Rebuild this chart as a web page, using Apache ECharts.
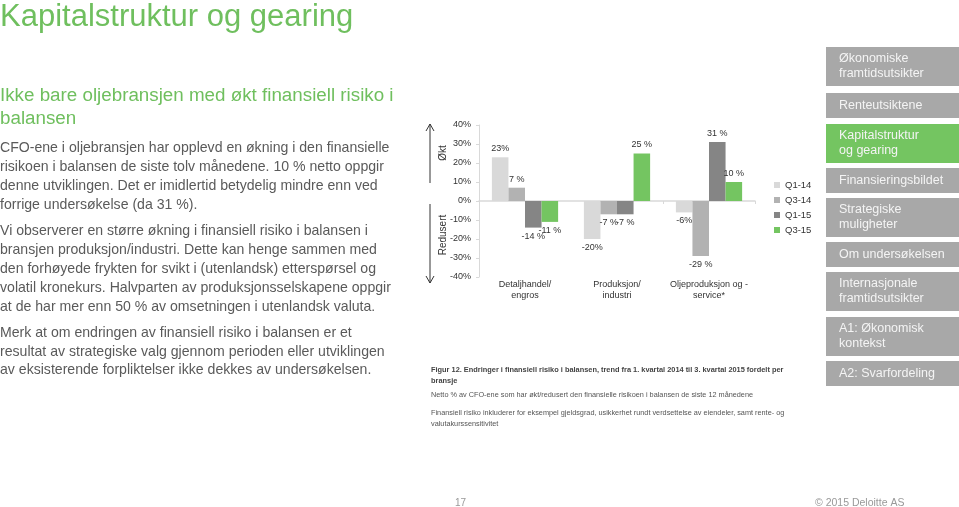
<!DOCTYPE html>
<html><head><meta charset="utf-8">
<script src="https://cdn.jsdelivr.net/npm/echarts@6/dist/echarts.min.js"></script>
<style>html,body{margin:0;padding:0;background:#fff;}#c{width:959px;height:507px;}</style>
</head><body><div id="c"></div>
<script>
var categories = ['Detaljhandel/\nengros', 'Produksjon/\nindustri', 'Oljeproduksjon og -\nservice*'];
var seriesNames = ['Q1-14', 'Q3-14', 'Q1-15', 'Q3-15'];
var q1_14 = [23, -20, -6];
var q3_14 = [7, -7, -29];
var q1_15 = [-14, -7, 31];
var q3_15 = [-11, 25, 10];
var q1_14Labels = ['23%', '-20%', '-6%'];
var q3_14Labels = ['7 %', '-7 %', '-29 %'];
var q1_15Labels = ['-14 %', '-7 %', '31 %'];
var q3_15Labels = ['-11 %', '25 %', '10 %'];
var yTicks = [-40, -30, -20, -10, 0, 10, 20, 30, 40];

var colors = ['#d9d9d9', '#b2b2b2', '#858585', '#74c561'];
var FONT = '"Liberation Sans", Arial, sans-serif';

function mkSeries(name, data, labels, color) {
  return {
    name: name, type: 'bar', xAxisIndex: 0, barGap: '0%', barCategoryGap: '28%',
    itemStyle: {color: color},
    data: data.map(function (v, i) {
      return {value: v, label: {position: v >= 0 ? 'top' : 'bottom', formatter: labels[i]}};
    }),
    label: {show: true, fontSize: 9, color: '#333', fontFamily: FONT, distance: 4}
  };
}

var navItems = [
  {t: 'Økonomiske\nframtidsutsikter', y: 47, h: 39},
  {t: 'Renteutsiktene', y: 93, h: 25},
  {t: 'Kapitalstruktur\nog gearing', y: 124, h: 39, active: true},
  {t: 'Finansieringsbildet', y: 168, h: 25},
  {t: 'Strategiske\nmuligheter', y: 198, h: 39},
  {t: 'Om undersøkelsen', y: 242, h: 25},
  {t: 'Internasjonale\nframtidsutsikter', y: 272, h: 39},
  {t: 'A1: Økonomisk\nkontekst', y: 317, h: 39},
  {t: 'A2: Svarfordeling', y: 361, h: 25}
];

var graphics = [];
function txt(x, y, text, size, color, opts) {
  opts = opts || {};
  graphics.push({
    type: 'text', x: x, y: y, rotation: opts.rotation || 0, z: 10,
    style: {text: text, fill: color, font: (opts.weight || 'normal') + ' ' + size + 'px ' + FONT,
      lineHeight: opts.lh || size * 1.2, textAlign: opts.align || 'left', textVerticalAlign: opts.va || 'top'}
  });
}
// left slide text
txt(0, -1, 'Kapitalstruktur og gearing', 31, '#6fbf5e');
txt(0, 84, 'Ikke bare oljebransjen med økt finansiell risiko i\nbalansen', 18.8, '#6fbf5e', {lh: 23});
txt(0, 139, 'CFO-ene i oljebransjen har opplevd en økning i den finansielle\nrisikoen i balansen de siste tolv månedene. 10 % netto oppgir\ndenne utviklingen. Det er imidlertid betydelig mindre enn ved\nforrige undersøkelse (da 31 %).', 14.1, '#5a5a5a', {lh: 19});
txt(0, 222, 'Vi observerer en større økning i finansiell risiko i balansen i\nbransjen produksjon/industri. Dette kan henge sammen med\nden forhøyede frykten for svikt i (utenlandsk) etterspørsel og\nvolatil kronekurs. Halvparten av produksjonsselskapene oppgir\nat de har mer enn 50 % av omsetningen i utenlandsk valuta.', 14.1, '#5a5a5a', {lh: 19});
txt(0, 324, 'Merk at om endringen av finansiell risiko i balansen er et\nresultat av strategiske valg gjennom perioden eller utviklingen\nav eksisterende forpliktelser ikke dekkes av undersøkelsen.', 14.1, '#5a5a5a', {lh: 18.5});
// caption
txt(431, 365, 'Figur 12. Endringer i finansiell risiko i balansen, trend fra 1. kvartal 2014 til 3. kvartal 2015 fordelt per\nbransje', 7.4, '#444', {weight: 'bold', lh: 10.5});
txt(431, 391, 'Netto % av CFO-ene som har økt/redusert den finansielle risikoen i balansen de siste 12 månedene', 7.3, '#555');
txt(431, 408, 'Finansiell risiko inkluderer for eksempel gjeldsgrad, usikkerhet rundt verdsettelse av eiendeler, samt rente- og\nvalutakurssensitivitet', 7.3, '#555', {lh: 10.5});
// footer
txt(455, 497, '17', 10, '#999');
txt(815, 497, '© 2015 Deloitte AS', 10.5, '#999');
// Økt / Redusert arrows
txt(443, 153, 'Økt', 10, '#333', {rotation: Math.PI / 2, align: 'center', va: 'middle'});
txt(443, 235, 'Redusert', 10, '#333', {rotation: Math.PI / 2, align: 'center', va: 'middle'});
graphics.push({type: 'line', shape: {x1: 430, y1: 124, x2: 430, y2: 183}, style: {stroke: '#333', lineWidth: 1}});
graphics.push({type: 'polyline', shape: {points: [[426, 131], [430, 124], [434, 131]]}, style: {stroke: '#333', fill: null, lineWidth: 1}});
graphics.push({type: 'line', shape: {x1: 430, y1: 204, x2: 430, y2: 283}, style: {stroke: '#333', lineWidth: 1}});
graphics.push({type: 'polyline', shape: {points: [[426, 276], [430, 283], [434, 276]]}, style: {stroke: '#333', fill: null, lineWidth: 1}});
// nav boxes
navItems.forEach(function (n) {
  graphics.push({type: 'rect', shape: {x: 826, y: n.y, width: 133, height: n.h},
    style: {fill: n.active ? '#74c561' : '#a8a8a8'}});
  txt(839, n.y + n.h / 2, n.t, 12.5, '#f4f4f4', {va: 'middle', lh: 15});
});

var chart = echarts.init(document.getElementById('c'), null, {renderer: 'canvas'});
chart.setOption({
  animation: false,
  textStyle: {fontFamily: FONT},
  grid: {left: 479, right: 204, top: 125, bottom: 230, containLabel: false},
  legend: {
    data: seriesNames, orient: 'vertical', left: 769, top: 175, itemWidth: 6, itemHeight: 6,
    itemGap: 5, icon: 'rect', textStyle: {fontSize: 9.5, color: '#333', fontFamily: FONT}
  },
  xAxis: [
    {type: 'category', data: categories, axisLine: {onZero: true, lineStyle: {color: '#d9d9d9', width: 1.5}},
      axisTick: {show: true, length: 3, inside: false, lineStyle: {color: '#d9d9d9'}}, axisLabel: {show: false}},
    {type: 'category', data: categories, position: 'bottom', axisLine: {show: false, onZero: false},
      axisTick: {show: false}, axisLabel: {show: true, interval: 0, fontSize: 9, color: '#333', lineHeight: 11, margin: 2, fontFamily: FONT}}
  ],
  yAxis: {
    type: 'value', min: -40, max: 40, interval: 10,
    axisLine: {show: true, lineStyle: {color: '#d9d9d9'}},
    axisTick: {show: true, length: 3, lineStyle: {color: '#d9d9d9'}},
    splitLine: {show: false},
    axisLabel: {fontSize: 9, color: '#333', margin: 8, fontFamily: FONT,
      customValues: yTicks, formatter: function (v) { return v + '%'; }}
  },
  series: [
    mkSeries(seriesNames[0], q1_14, q1_14Labels, colors[0]),
    mkSeries(seriesNames[1], q3_14, q3_14Labels, colors[1]),
    mkSeries(seriesNames[2], q1_15, q1_15Labels, colors[2]),
    mkSeries(seriesNames[3], q3_15, q3_15Labels, colors[3])
  ],
  graphic: graphics
});
</script></body></html>
